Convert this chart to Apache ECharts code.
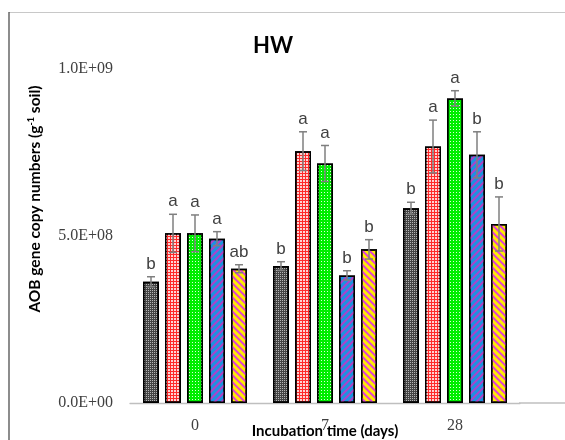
<!DOCTYPE html>
<html>
<head>
<meta charset="utf-8">
<script src="https://cdn.jsdelivr.net/npm/echarts@6/dist/echarts.min.js"></script>
<style>
html,body{margin:0;padding:0;background:#fff;}
#chart{width:565px;height:440px;}
</style>
</head>
<body>
<div id="chart"></div>
<script>
// ---- data ----
const categories = ['0', '7', '28'];
const seriesNames = ['S1', 'S2', 'S3', 'S4', 'S5'];
const means = [
  [0.363e9, 0.410e9, 0.583e9],
  [0.508e9, 0.754e9, 0.768e9],
  [0.508e9, 0.717e9, 0.912e9],
  [0.492e9, 0.382e9, 0.743e9],
  [0.402e9, 0.460e9, 0.536e9]
];
const errors = [
  [0.015e9, 0.013e9, 0.018e9],
  [0.057e9, 0.058e9, 0.079e9],
  [0.055e9, 0.054e9, 0.023e9],
  [0.021e9, 0.014e9, 0.069e9],
  [0.012e9, 0.029e9, 0.081e9]
];
const letters = [
  ['b', 'b', 'b'],
  ['a', 'a', 'a'],
  ['a', 'a', 'a'],
  ['a', 'b', 'b'],
  ['ab', 'b', 'b']
];
const yTickLabels = { 0: '0.0E+00', 500000000: '5.0E+08', 1000000000: '1.0E+09' };

// ---- styles ----
const BAR_W = 16, BAR_GAP = 6;
const fills = [
  { color: '#444444', decal: { symbol: 'rect', symbolSize: 1, dashArrayX: [1, 1], dashArrayY: [1, 1], color: 'rgba(255,255,255,0.6)' } },
  { color: '#ff2a2a', decal: { symbol: 'rect', symbolSize: 1, dashArrayX: [2, 1], dashArrayY: [2, 1], color: 'rgba(255,220,220,0.95)' } },
  { color: '#00ee00', decal: { symbol: 'rect', symbolSize: 1, dashArrayX: [1, 2], dashArrayY: [1, 2], color: 'rgba(255,255,255,0.85)' } },
  { color: '#1c92e0', decal: { symbol: 'rect', symbolSize: 1, dashArrayX: [1, 0], dashArrayY: [1.5, 3], rotation: -Math.PI / 4, color: '#b040c8' } },
  { color: '#ffee00', decal: { symbol: 'rect', symbolSize: 1, dashArrayX: [1, 0], dashArrayY: [2, 3], rotation: Math.PI / 4, color: '#e040d8' } }
];

const barSeries = seriesNames.map((n, i) => ({
  name: n,
  type: 'bar',
  data: means[i],
  barWidth: BAR_W,
  barGap: (BAR_GAP / BAR_W * 100) + '%',
  itemStyle: { color: fills[i].color, decal: fills[i].decal, borderColor: '#000', borderWidth: 1.5 },
  z: 2
}));

const errData = [];
for (let s = 0; s < seriesNames.length; s++) {
  for (let c = 0; c < categories.length; c++) {
    errData.push([c, s, means[s][c], errors[s][c]]);
  }
}

const errSeries = {
  type: 'custom',
  data: errData,
  z: 5,
  renderItem(params, api) {
    const c = api.value(0), s = api.value(1), m = api.value(2), e = api.value(3);
    const center = api.coord([c, m]);
    const x = center[0] + (s - 2) * (BAR_W + BAR_GAP);
    const yt = api.coord([c, m + e])[1];
    const yb = api.coord([c, m - e])[1];
    const st = { stroke: '#7f7f7f', lineWidth: 1.5 };
    return {
      type: 'group',
      children: [
        { type: 'line', shape: { x1: x, y1: yt, x2: x, y2: yb }, style: st },
        { type: 'line', shape: { x1: x - 4, y1: yt, x2: x + 4, y2: yt }, style: st },
        { type: 'line', shape: { x1: x - 4, y1: yb, x2: x + 4, y2: yb }, style: st },
        { type: 'text', x: x, y: yt - 4,
          style: { text: letters[s][c], align: 'center', verticalAlign: 'bottom', fontSize: 17, fontFamily: 'Liberation Sans', fill: '#404040' } }
      ]
    };
  }
};

const chart = echarts.init(document.getElementById('chart'), null, { renderer: 'canvas' });
chart.setOption({
  animation: false,
  backgroundColor: '#fff',
  title: {
    text: 'HW', left: 268, top: 30, textAlign: 'center',
    textStyle: { fontFamily: 'Lato', fontWeight: 'bold', fontSize: 22, color: '#000' }
  },
  grid: { left: 130, right: 45, top: 69, bottom: 37, containLabel: false, outerBoundsMode: 'none' },
  xAxis: {
    type: 'category',
    data: categories,
    axisLine: { lineStyle: { color: '#bfbfbf', width: 1.3 } },
    axisTick: { show: false },
    axisLabel: { margin: 15, fontFamily: 'Liberation Serif', fontSize: 16, color: '#404040' },
    name: 'Incubation time (days)',
    nameLocation: 'middle',
    nameGap: 21,
    nameMoveOverlap: false,
    nameTextStyle: { fontFamily: 'Lato', fontWeight: 'bold', fontSize: 15, color: '#000' }
  },
  yAxis: {
    type: 'value',
    min: 0, max: 1e9, interval: 5e8,
    axisLine: { show: false },
    axisTick: { show: false },
    splitLine: { show: false },
    axisLabel: {
      margin: 17, fontFamily: 'Liberation Serif', fontSize: 16, color: '#404040',
      formatter: v => yTickLabels[v] !== undefined ? yTickLabels[v] : ''
    }
  },
  graphic: [
    { type: 'line', shape: { x1: 9, y1: 12.5, x2: 565, y2: 12.5 }, style: { stroke: '#c8c8c8', lineWidth: 1 }, z: 10 },
    { type: 'line', shape: { x1: 9, y1: 12, x2: 9, y2: 440 }, style: { stroke: '#404040', lineWidth: 1.2 }, z: 10 },
    { type: 'line', shape: { x1: 519, y1: 403, x2: 565, y2: 403 }, style: { stroke: '#bfbfbf', lineWidth: 1.3 }, z: 1 },
    {
      type: 'text', x: 35, y: 199, rotation: Math.PI / 2,
      style: {
        text: 'AOB gene copy numbers (g{sup|-1} soil)',
        align: 'center', verticalAlign: 'middle',
        fontFamily: 'Lato', fontWeight: 'bold', fontSize: 15.5, fill: '#000',
        rich: { sup: { fontSize: 9, fontWeight: 'bold', fontFamily: 'Lato', verticalAlign: 'top', padding: [0, 0, 7, 0] } }
      }
    }
  ],
  series: [...barSeries, errSeries]
});
</script>
</body>
</html>
